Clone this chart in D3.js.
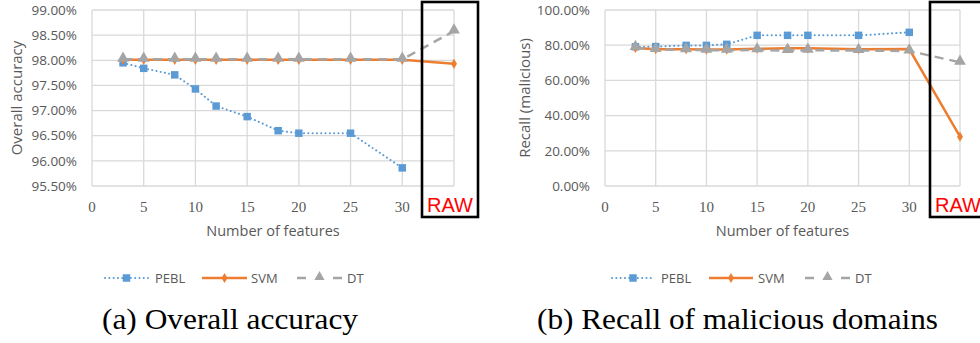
<!DOCTYPE html>
<html><head><meta charset="utf-8">
<script src="https://cdn.jsdelivr.net/npm/d3@7"></script>
<style>
body{margin:0;background:#fff;}
svg{display:block;}
</style></head>
<body>
<svg id="chart" width="980" height="343"></svg>
<script>
// ---------- data ----------
const featureCounts = [3, 5, 8, 10, 12, 15, 18, 20, 25, 30, "RAW"];
const xTickValues = [0, 5, 10, 15, 20, 25, 30];
const seriesNames = ["PEBL", "SVM", "DT"];

const accPEBL = [97.95, 97.84, 97.71, 97.43, 97.09, 96.88, 96.60, 96.55, 96.55, 95.86, null];
const accSVM  = [98.01, 98.01, 98.01, 98.01, 98.01, 98.01, 98.01, 98.01, 98.01, 98.01, 97.93];
const accDT   = [98.02, 98.02, 98.02, 98.02, 98.02, 98.02, 98.02, 98.02, 98.02, 98.02, 98.58];
const accTicks = [95.5, 96.0, 96.5, 97.0, 97.5, 98.0, 98.5, 99.0];

const recPEBL = [79.1, 79.2, 79.9, 79.9, 80.5, 85.6, 85.6, 85.6, 85.6, 87.3, null];
const recSVM  = [78.4, 77.7, 77.7, 77.5, 77.5, 78.0, 78.2, 78.2, 77.7, 77.8, 28.0];
const recDT   = [78.6, 77.5, 77.3, 77.1, 77.1, 77.3, 76.9, 77.1, 77.0, 76.7, 70.3];
const recTicks = [0, 20, 40, 60, 80, 100];

const colors = {PEBL: "#5b9bd5", SVM: "#ed7d31", DT: "#a5a5a5"};
const gridColor = "#d9d9d9";
const textColor = "#595959";
const sansFont = "'Open Sans', 'Noto Sans', sans-serif";

const svg = d3.select("#chart");

function drawPanel(cfg) {
  const g = svg.append("g");
  const x = d3.scaleLinear().domain([0, 35]).range([cfg.left, cfg.right]);
  const y = d3.scaleLinear().domain(cfg.yDomain).range([186, 10]);
  const xOf = f => f === "RAW" ? x.domain()[1] : f;

  // grid
  g.append("g").selectAll("line").data(cfg.yTicks).join("line")
    .attr("x1", x(0)).attr("x2", x(35))
    .attr("y1", d => y(d)).attr("y2", d => y(d))
    .attr("stroke", gridColor).attr("stroke-width", 1.3);
  g.append("g").selectAll("line").data(d3.range(0, 36, 5)).join("line")
    .attr("x1", d => x(d)).attr("x2", d => x(d))
    .attr("y1", y.range()[0]).attr("y2", y.range()[1])
    .attr("stroke", gridColor).attr("stroke-width", 1.3);

  // y tick labels
  g.append("g").selectAll("text").data(cfg.yTicks).join("text")
    .attr("x", cfg.left - 15).attr("y", d => y(d)).attr("dy", "0.35em")
    .attr("text-anchor", "end").attr("fill", textColor)
    .attr("font-family", sansFont).attr("font-size", 13.5)
    .text(d => d3.format(".2f")(d) + "%");

  // x tick labels
  g.append("g").selectAll("text").data(xTickValues).join("text")
    .attr("x", d => x(d)).attr("y", 207).attr("dy", "0.35em")
    .attr("text-anchor", "middle").attr("fill", textColor)
    .attr("font-family", "'Liberation Serif', serif").attr("font-size", 15)
    .text(d => d);

  // axis titles
  g.append("text").attr("x", (cfg.left + cfg.right) / 2).attr("y", 231).attr("dy", "0.35em")
    .attr("text-anchor", "middle").attr("fill", textColor)
    .attr("font-family", sansFont).attr("font-size", 14.5)
    .text("Number of features");
  g.append("text")
    .attr("transform", `translate(${cfg.yLabelX},${98}) rotate(-90)`)
    .attr("dy", "0.35em").attr("text-anchor", "middle").attr("fill", textColor)
    .attr("font-family", sansFont).attr("font-size", 15)
    .text(cfg.yLabel);

  const line = d3.line()
    .defined(d => d.v != null)
    .x(d => x(xOf(d.f))).y(d => y(d.v));
  const pts = vals => featureCounts.map((f, i) => ({f, v: vals[i]}));

  const styles = {
    PEBL: {w: 2, dash: "0.1 4.2", cap: "round"},
    SVM:  {w: 2.5, dash: null, cap: "butt"},
    DT:   {w: 2.5, dash: "9 6", cap: "butt"}
  };
  // lines
  cfg.series.forEach((vals, si) => {
    const name = seriesNames[si];
    const st = styles[name];
    g.append("path").datum(pts(vals)).attr("d", line)
      .attr("fill", "none").attr("stroke", colors[name])
      .attr("stroke-width", st.w).attr("stroke-dasharray", st.dash)
      .attr("stroke-linecap", st.cap);
  });
  // markers
  cfg.series.forEach((vals, si) => {
    const name = seriesNames[si];
    const data = pts(vals).filter(d => d.v != null);
    const sym = name === "PEBL" ? d3.symbolSquare : name === "SVM" ? d3.symbolDiamond : d3.symbolTriangle;
    const size = name === "PEBL" ? 56 : name === "SVM" ? 30 : 60;
    g.append("g").selectAll("path").data(data).join("path")
      .attr("transform", d => `translate(${x(xOf(d.f))},${y(d.v) + (name === "DT" ? -1 : 0)})`)
      .attr("d", d3.symbol().type(sym).size(size))
      .attr("fill", colors[name]);
  });

  // legend
  const ly = 278;
  const lg = g.append("g");
  cfg.legend.forEach((L, i) => {
    const name = seriesNames[i];
    const st = styles[name];
    if (name === "DT") {
      [[L.x0, L.x0 + 9], [L.x1 - 9, L.x1]].forEach(s =>
        lg.append("line").attr("x1", s[0]).attr("x2", s[1]).attr("y1", ly).attr("y2", ly)
          .attr("stroke", colors[name]).attr("stroke-width", 2.5));
    } else {
      lg.append("line").attr("x1", L.x0).attr("x2", L.x1).attr("y1", ly).attr("y2", ly)
        .attr("stroke", colors[name]).attr("stroke-width", st.w)
        .attr("stroke-dasharray", st.dash).attr("stroke-linecap", st.cap);
    }
    const sym = name === "PEBL" ? d3.symbolSquare : name === "SVM" ? d3.symbolDiamond : d3.symbolTriangle;
    const size = name === "PEBL" ? 56 : name === "SVM" ? 30 : 45;
    lg.append("path").attr("transform", `translate(${(L.x0 + L.x1) / 2},${ly - (name === "DT" ? 1 : 0)})`)
      .attr("d", d3.symbol().type(sym).size(size)).attr("fill", colors[name]);
    lg.append("text").attr("x", L.tx).attr("y", ly).attr("dy", "0.35em")
      .attr("fill", textColor).attr("font-family", sansFont).attr("font-size", 13)
      .text(name);
  });

  // RAW box
  g.append("rect").attr("x", cfg.boxX).attr("y", 2).attr("width", 56).attr("height", 215)
    .attr("fill", "none").attr("stroke", "#000").attr("stroke-width", 2.6);
  g.append("text").attr("x", cfg.boxX + 5).attr("y", 212)
    .attr("fill", "#ff0000").attr("font-family", "'Liberation Sans', Arial, sans-serif")
    .attr("font-size", 20).text("RAW");

  // caption
  g.append("text").attr("x", cfg.capX).attr("y", 329)
    .attr("font-family", "'Liberation Serif', 'Times New Roman', serif").attr("font-size", 30)
    .attr("fill", "#000").attr("textLength", cfg.capW).attr("lengthAdjust", "spacingAndGlyphs")
    .text(cfg.caption);
}

drawPanel({
  left: 92, right: 454, yDomain: [95.5, 99], yTicks: accTicks,
  yLabel: "Overall accuracy", yLabelX: 17,
  series: [accPEBL, accSVM, accDT],
  legend: [{x0: 105, x1: 148, tx: 155}, {x0: 202, x1: 247, tx: 251}, {x0: 297, x1: 342, tx: 347}],
  boxX: 422, caption: "(a) Overall accuracy", capX: 102, capW: 256
});
drawPanel({
  left: 605, right: 960, yDomain: [0, 100], yTicks: recTicks,
  yLabel: "Recall (malicious)", yLabelX: 525,
  series: [recPEBL, recSVM, recDT],
  legend: [{x0: 612, x1: 654, tx: 661}, {x0: 709, x1: 753, tx: 758}, {x0: 805, x1: 850, tx: 855}],
  boxX: 930, caption: "(b) Recall of malicious domains", capX: 537, capW: 401
});
</script>
</body></html>
